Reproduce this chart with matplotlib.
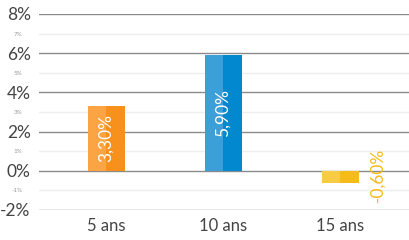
import matplotlib.pyplot as plt
import numpy as np

# donnees
categories = ['5 ans', '10 ans', '15 ans']
valeurs = [3.3, 5.9, -0.6]
etiquettes = ['3,30%', '5,90%', '-0,60%']
couleurs_claires = ['#FBA443', '#3C9FD7', '#F8CB45']
couleurs_foncees = ['#F8901C', '#0288CF', '#F5BB18']
ticks_majeurs = [-2, 0, 2, 4, 6, 8]
ticks_mineurs = [-1, 1, 3, 5, 7]

plt.rcParams['font.family'] = ['Lato', 'DejaVu Sans']

fig = plt.figure(figsize=(4.1, 2.4), dpi=100)
ax = fig.add_axes([39 / 410, 30 / 240, 371 / 410, 196 / 240])

x = np.arange(len(categories))
w = 0.316

ax.bar(x - w / 2, valeurs, width=w / 2, align='edge', color=couleurs_claires, zorder=3)
ax.bar(x, valeurs, width=w / 2, align='edge', color=couleurs_foncees, zorder=3)

# etiquettes des barres
for i, v in enumerate(valeurs):
    if v > 0:
        ax.text(x[i], v / 2, etiquettes[i], rotation=90, ha='center', va='center',
                color='white', fontsize=12.5, zorder=4)
    else:
        ax.text(x[i] + 0.32, -0.2, etiquettes[i], rotation=90, ha='center', va='center',
                color=couleurs_foncees[i], fontsize=12.5, zorder=4)

ax.set_xlim(-0.573, 2.598)
ax.set_ylim(-2, 8)

ax.set_yticks(ticks_majeurs)
ax.set_yticklabels([f'{t}%' for t in ticks_majeurs], fontsize=12.5, color='#444444')
ax.set_yticks(ticks_mineurs, minor=True)
ax.set_yticklabels([f'{t}%' for t in ticks_mineurs], minor=True, fontsize=4.5, color='#999999')
ax.tick_params(axis='y', which='major', length=0, pad=6)
ax.tick_params(axis='y', which='minor', length=0, pad=12)

ax.set_xticks(x)
ax.set_xticklabels(categories, fontsize=12, color='#444444')
ax.tick_params(axis='x', length=0, pad=6)

ax.grid(axis='y', which='major', color='#8a8a8a', linewidth=1, zorder=1)
ax.grid(axis='y', which='minor', color='#eeeeee', linewidth=1, zorder=1)
ax.grid(axis='x', visible=False)

for s in ax.spines.values():
    s.set_visible(False)

fig.savefig('out.png', dpi=100)
